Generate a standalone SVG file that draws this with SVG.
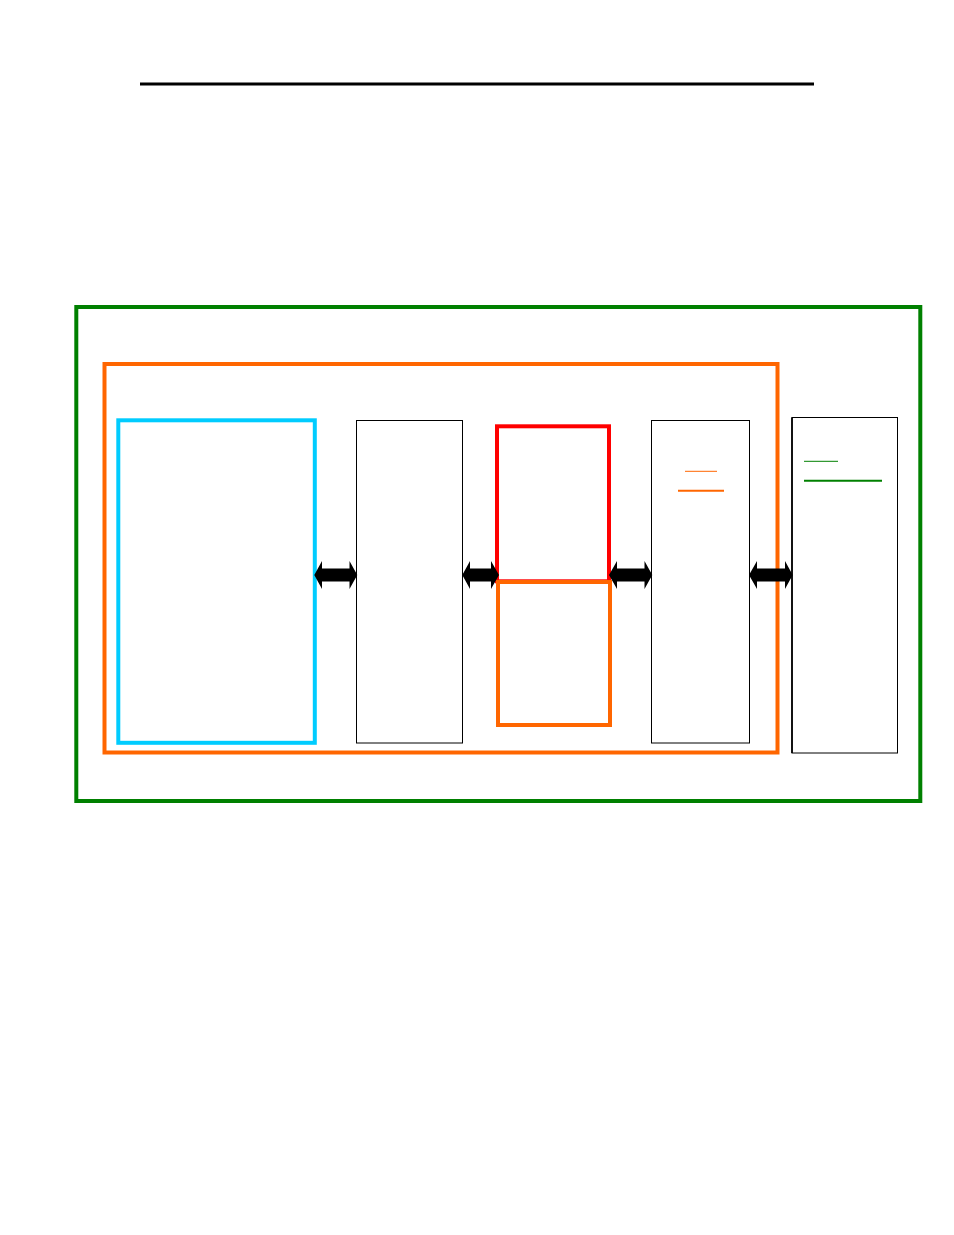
<svg xmlns="http://www.w3.org/2000/svg" width="954" height="1235" viewBox="0 0 954 1235">
<style>
.thin{fill:none;stroke:#000;stroke-width:1}
.arrow{fill:#000;stroke:none}
</style>
<rect width="954" height="1235" fill="#fff"/>
<line x1="140" y1="84" x2="814" y2="84" stroke="#000" stroke-width="3"/>
<g id="outer-green"><rect x="76.3" y="307" width="844" height="494" fill="none" stroke="#008000" stroke-width="4"/></g>
<g id="outer-orange"><rect x="104.5" y="364" width="673" height="388.5" fill="none" stroke="#ff6600" stroke-width="4"/></g>
<g id="cyan-box"><rect x="118.3" y="420.3" width="196.5" height="322.5" fill="none" stroke="#00ccff" stroke-width="4"/></g>
<g id="box2"><rect x="356.5" y="420.5" width="106" height="322.5" class="thin"/></g>
<g id="red-box"><rect x="497" y="426.3" width="112" height="155" fill="none" stroke="#ff0000" stroke-width="4"/></g>
<g id="orange-box"><rect x="498" y="582" width="112" height="143" fill="none" stroke="#ff6600" stroke-width="4"/></g>
<g id="box4">
<rect x="651.5" y="420.5" width="98" height="322.5" class="thin"/>
<line x1="685" y1="471.3" x2="717" y2="471.3" stroke="#ff6600" stroke-width="1"/>
<line x1="678" y1="490.7" x2="724" y2="490.7" stroke="#ff6600" stroke-width="2"/>
</g>
<g id="box5">
<rect x="792" y="417.5" width="105.5" height="335.5" fill="none" stroke="#000" stroke-width="1"/>
<line x1="792" y1="417.5" x2="792" y2="753" stroke="#000" stroke-width="1.7"/>
<line x1="804" y1="461.3" x2="838" y2="461.3" stroke="#008000" stroke-width="1"/>
<line x1="804" y1="480.7" x2="882" y2="480.7" stroke="#008000" stroke-width="2"/>
</g>
<g id="connectors">
<polygon class="arrow" points="314.3,575 322,561 322,568.5 349.5,568.5 349.5,561 357.3,575 349.5,589 349.5,581.5 322,581.5 322,589"/>
<polygon class="arrow" points="462.3,575 470,561 470,568.5 491,568.5 491,561 499,575 491,589 491,581.5 470,581.5 470,589"/>
<polygon class="arrow" points="609,575 617,561 617,568.5 644.5,568.5 644.5,561 652.3,575 644.5,589 644.5,581.5 617,581.5 617,589"/>
<polygon class="arrow" points="749,575 757,561 757,568.5 785,568.5 785,561 792.7,575 785,589 785,581.5 757,581.5 757,589"/>
</g>
</svg>
